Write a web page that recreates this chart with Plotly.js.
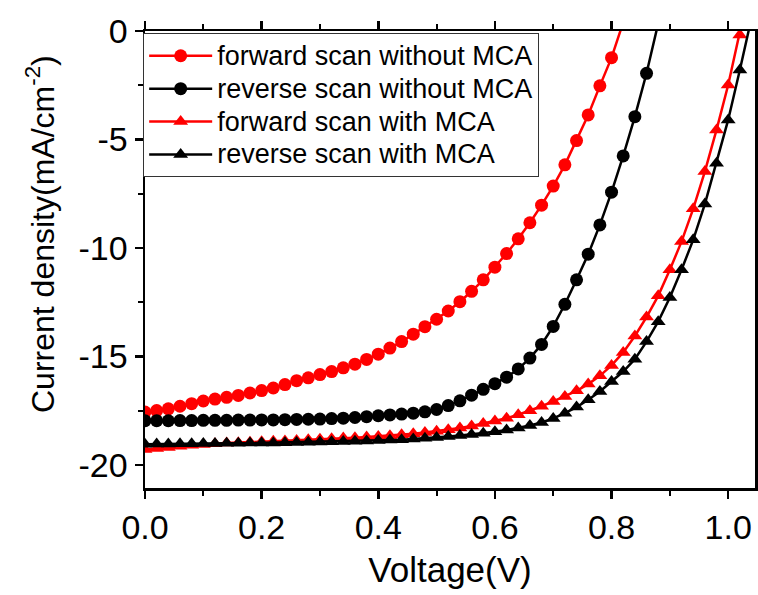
<!DOCTYPE html>
<html>
<head>
<meta charset="utf-8">
<script src="https://cdn.plot.ly/plotly-3.0.1.min.js"></script>
<style>html,body{margin:0;padding:0;background:#fff;}#chart{width:758px;height:595px;}</style>
</head>
<body>
<div id="chart"></div>
<script>
// Voltage grid (V)
var voltage = [0.00,0.02,0.04,0.06,0.08,0.10,0.12,0.14,0.16,0.18,0.20,0.22,0.24,0.26,0.28,0.30,0.32,0.34,0.36,0.38,0.40,0.42,0.44,0.46,0.48,0.50,0.52,0.54,0.56,0.58,0.60,0.62,0.64,0.66,0.68,0.70,0.72,0.74,0.76,0.78,0.80,0.82,0.84,0.86,0.88,0.90,0.92,0.94,0.96,0.98,1.00,1.02,1.04];

// Current density (mA/cm^2)
var fwdWithout = [-17.57,-17.50,-17.42,-17.30,-17.18,-17.06,-16.97,-16.89,-16.80,-16.69,-16.58,-16.46,-16.30,-16.12,-15.99,-15.84,-15.70,-15.53,-15.36,-15.14,-14.90,-14.62,-14.32,-13.98,-13.63,-13.29,-12.91,-12.48,-12.00,-11.47,-10.89,-10.26,-9.58,-8.84,-8.03,-7.15,-6.17,-5.05,-3.87,-2.53,-1.23,0.40];
var revWithout = [-17.97,-17.97,-17.97,-17.96,-17.96,-17.95,-17.95,-17.95,-17.94,-17.94,-17.93,-17.93,-17.92,-17.91,-17.90,-17.89,-17.87,-17.85,-17.82,-17.78,-17.74,-17.70,-17.66,-17.62,-17.56,-17.45,-17.27,-17.05,-16.79,-16.52,-16.26,-15.96,-15.58,-15.08,-14.45,-13.62,-12.60,-11.47,-10.29,-8.94,-7.43,-5.76,-3.95,-1.95,0.35];
var fwdWith = [-19.30,-19.25,-19.20,-19.15,-19.10,-19.06,-19.03,-19.00,-18.98,-18.96,-18.94,-18.92,-18.90,-18.88,-18.85,-18.82,-18.80,-18.77,-18.75,-18.72,-18.69,-18.66,-18.62,-18.57,-18.51,-18.45,-18.38,-18.30,-18.21,-18.10,-17.98,-17.85,-17.69,-17.51,-17.30,-17.08,-16.85,-16.59,-16.28,-15.90,-15.42,-14.82,-14.06,-13.19,-12.21,-11.01,-9.71,-8.20,-6.48,-4.56,-2.49,-0.18,2.40];
var revWith = [-19.05,-19.04,-19.04,-19.03,-19.03,-19.02,-19.02,-19.01,-19.01,-19.00,-19.00,-18.99,-18.98,-18.97,-18.96,-18.95,-18.94,-18.93,-18.91,-18.90,-18.88,-18.86,-18.84,-18.81,-18.78,-18.74,-18.70,-18.65,-18.60,-18.55,-18.48,-18.40,-18.30,-18.19,-18.05,-17.86,-17.62,-17.34,-17.00,-16.62,-16.16,-15.70,-15.13,-14.32,-13.40,-12.29,-11.01,-9.63,-7.98,-6.10,-4.10,-1.80,0.60];

var seriesNames = ['forward scan without MCA','reverse scan without MCA','forward scan with MCA','reverse scan with MCA'];
var xTickVals = [0.0,0.2,0.4,0.6,0.8,1.0];
var xTickText = ['0.0','0.2','0.4','0.6','0.8','1.0'];
var yTickVals = [0,-5,-10,-15,-20];
var yTickText = ['0','-5','-10','-15','-20'];

var FONT = 'Liberation Sans, Arial, sans-serif';
var RED = '#ff0000', BLACK = '#000000';

function tr(y, name, color, symbol, size) {
  return {
    x: voltage.slice(0, y.length), y: y, type: 'scatter', mode: 'lines+markers',
    name: '<span style="font-size:27px">' + name + '</span>',
    line: {color: color, width: 2.5},
    marker: {color: color, symbol: symbol, size: size, line: {width: 0}}
  };
}

var data = [
  tr(fwdWithout, seriesNames[0], RED, 'circle', 13),
  tr(revWithout, seriesNames[1], BLACK, 'circle', 13),
  tr(fwdWith, seriesNames[2], RED, 'triangle-up', 13),
  tr(revWith, seriesNames[3], BLACK, 'triangle-up', 13)
];

var layout = {
  width: 758, height: 595,
  margin: {l: 145, r: 3, t: 31, b: 107},
  paper_bgcolor: '#fff', plot_bgcolor: '#fff',
  font: {family: FONT, color: '#000'},
  showlegend: true,
  legend: {
    x: -0.003, y: 0.995, xanchor: 'left', yanchor: 'top',
    bgcolor: '#fff', bordercolor: '#333', borderwidth: 1,
    font: {family: FONT, size: 23, color: '#000'},
    itemwidth: 63, tracegroupgap: 0
  },
  xaxis: {
    range: [0, 1.046], showgrid: false, zeroline: false,
    tickmode: 'array', tickvals: xTickVals, ticktext: xTickText,
    ticks: 'outside', ticklen: 8, tickwidth: 2.5, tickcolor: '#000',
    minor: {dtick: 0.1, ticks: 'outside', ticklen: 5, tickwidth: 2, tickcolor: '#000', showgrid: false},
    showline: true, linewidth: 2.5, linecolor: '#000', mirror: 'ticks',
    tickfont: {family: FONT, size: 34, color: '#000'},
    title: {text: 'Voltage(V)', font: {family: FONT, size: 35, color: '#000'}, standoff: 12}
  },
  yaxis: {
    range: [-21.07, 0], showgrid: false, zeroline: false,
    tickmode: 'array', tickvals: yTickVals, ticktext: yTickText,
    ticks: 'outside', ticklen: 8, tickwidth: 2.5, tickcolor: '#000',
    minor: {dtick: 2.5, ticks: 'outside', ticklen: 5, tickwidth: 2, tickcolor: '#000', showgrid: false},
    showline: true, linewidth: 2.5, linecolor: '#000', mirror: 'ticks',
    tickfont: {family: FONT, size: 34, color: '#000'}
  },
  annotations: [{
    text: 'Current density(mA/cm<sup>-2</sup>)', textangle: -90,
    xref: 'paper', yref: 'paper', x: -0.172, y: 0.556, xanchor: 'center', yanchor: 'middle',
    showarrow: false, font: {family: FONT, size: 32, color: '#000'}
  }]
};

Plotly.newPlot('chart', data, layout, {displayModeBar: false, staticPlot: true});
</script>
</body>
</html>
